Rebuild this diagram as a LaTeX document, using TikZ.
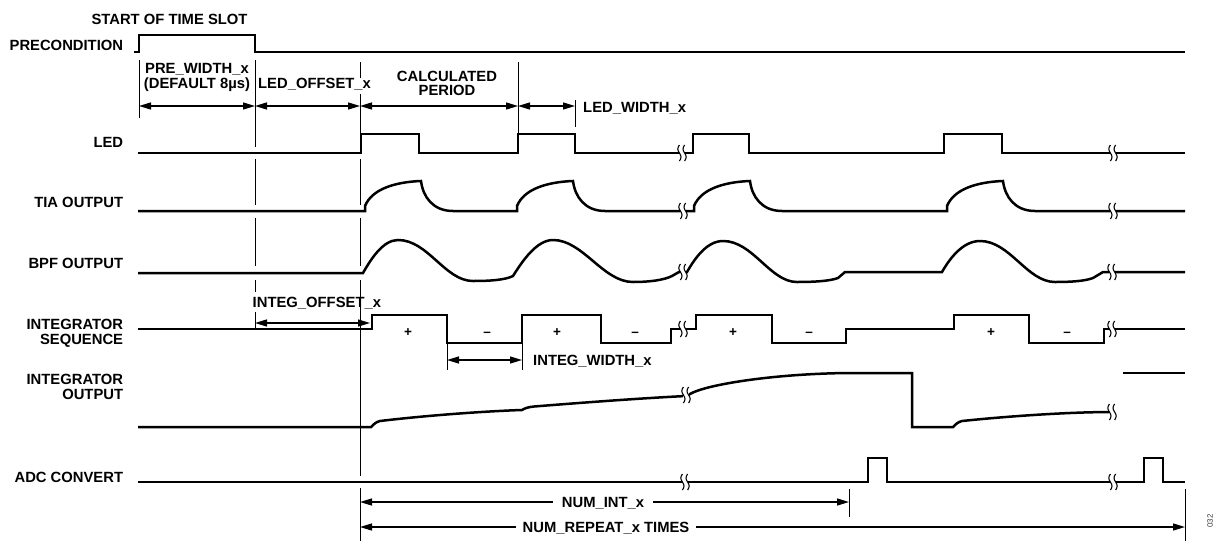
\documentclass[tikz,border=0pt]{standalone}
\usepackage{fontspec}
\setmainfont{Liberation Sans}
\usetikzlibrary{arrows.meta}
\begin{document}
\begin{tikzpicture}[x=1pt,y=-1pt,
  sig/.style={line width=2.5pt, line join=miter},
  vline/.style={line width=1pt},
  dim/.style={line width=1.3pt, arrows={Triangle[length=12pt,width=7pt]-Triangle[length=12pt,width=7pt]}},
  txt/.style={font=\fontsize{14.8}{14.5}\selectfont\bfseries, inner sep=0pt},
  lbl/.style={txt, anchor=base east},
  pm/.style={font=\fontsize{13.5}{13.5}\selectfont\bfseries, inner sep=0pt},
  pics/brk/.style={code={
     \fill[white] (-2.6,-5) rectangle (2.6,5);
     \draw[line width=1.1pt] plot[smooth, domain=-8:8, samples=9] ({-2.6+1.6*sin(\x*22.5)},\x);
     \draw[line width=1.1pt] plot[smooth, domain=-8:8, samples=9] ({2.6+1.6*sin(\x*22.5)},\x);
  }}
]
\useasboundingbox (0,0) rectangle (1215,541);

% ---- row labels
\node[txt, anchor=base] (slot) at (169.5,24.3) {START OF TIME SLOT};
\node[lbl] (lpre) at (123.3,50.6) {PRECONDITION};
\node[lbl] (lled) at (123.3,147.3) {LED};
\node[lbl] (ltia) at (123.3,207.3) {TIA OUTPUT};
\node[lbl] (lbpf) at (123.3,268.7) {BPF OUTPUT};
\node[txt, anchor=north east, align=right] (lseq) at (123.3,319) {INTEGRATOR\\SEQUENCE};
\node[txt, anchor=north east, align=right] (lout) at (123.3,374) {INTEGRATOR\\OUTPUT};
\node[lbl] (ladc) at (123.3,482.7) {ADC CONVERT};

% ---- vertical reference lines
\draw[vline] (139,60) -- (139,118);
\draw[vline] (255,60) -- (255,147) (255,159) -- (255,205) (255,218) -- (255,266)
             (255,280) -- (255,292) (255,312) -- (255,329);
\draw[vline] (360,62) -- (360,78) (360,94) -- (360,134) (360,159) -- (360,205)
             (360,218) -- (360,266) (360,280) -- (360,476) (360,488) -- (360,541);
\draw[vline] (518,62) -- (518,134);
\draw[vline] (575,100) -- (575,127);
\draw[vline] (447,343) -- (447,370);
\draw[vline] (522,343) -- (522,370);
\draw[vline] (849,489) -- (849,517);
\draw[vline] (1185,489) -- (1185,541);

% ---- signals
\draw[sig] (134,52) -- (139,52) -- (139,35) -- (255,35) -- (255,52) -- (1185,52);

\draw[sig] (138,153) -- (361,153) -- (361,134) -- (419,134) -- (419,153) -- (518,153)
  -- (518,134) -- (575,134) -- (575,153) -- (693,153) -- (693,134) -- (749,134)
  -- (749,153) -- (944,153) -- (944,134) -- (1002,134) -- (1002,153) -- (1185,153);

\draw[sig] (138,211) -- (365,211) -- (365,206) .. controls (372,189) and (395,182) .. (421,181)
  .. controls (423,197) and (433,211) .. (453,211) -- (517,211) -- (517,206)
  .. controls (524,189) and (547,182) .. (573,181) .. controls (575,197) and (585,211) .. (605,211)
  -- (694,211) -- (694,206) .. controls (701,189) and (724,182) .. (750,181)
  .. controls (752,197) and (762,211) .. (782,211) -- (947,211) -- (947,206)
  .. controls (954,189) and (977,182) .. (1003,181) .. controls (1005,197) and (1015,211) .. (1035,211)
  -- (1185,211);

\draw[sig] (138,273) -- (363,273) .. controls (371,259) and (383,240) .. (398,240)
  .. controls (428,240) and (445,281) .. (473,281) .. controls (490,281) and (505,280) .. (513,276)
  .. controls (523,260) and (537,240) .. (553,240) .. controls (583,240) and (603,282) .. (633,282)
  .. controls (650,282) and (664,280) .. (672,276) -- (679,272) -- (687,272)
  .. controls (695,258) and (707,241) .. (723,241) .. controls (753,241) and (770,282) .. (797,282)
  .. controls (815,282) and (830,281) .. (838,278) -- (845,272) -- (942,272)
  .. controls (950,258) and (963,241) .. (980,241) .. controls (1010,241) and (1027,282) .. (1055,282)
  .. controls (1072,282) and (1085,281) .. (1093,278) -- (1103,272) -- (1185,272);

\draw[sig] (138,329) -- (372,329) -- (372,315) -- (447,315) -- (447,343) -- (522,343)
  -- (522,315) -- (601,315) -- (601,343) -- (671,343) -- (671,329) -- (696,329) -- (696,315)
  -- (772,315) -- (772,343) -- (846,343) -- (846,329) -- (954,329) -- (954,315) -- (1029,315)
  -- (1029,343) -- (1104,343) -- (1104,329) -- (1185,329);

\draw[sig] (138,427) -- (371,427) .. controls (374,424) and (376,422) .. (380,421)
  .. controls (430,415) and (490,411) .. (522,410) .. controls (525,408) and (529,407) .. (534,406.5)
  .. controls (590,402) and (645,398) .. (686,396) -- (690,394)
  .. controls (705,385) and (770,374) .. (847,373) -- (912,373) -- (912,427) -- (953,427)
  .. controls (956,424) and (958,422) .. (962,421) .. controls (1010,416) and (1070,412) .. (1112,412);
\draw[sig] (1123,373) -- (1185,373);

\draw[sig] (138,482) -- (868,482) -- (868,458) -- (887,458) -- (887,482) -- (1144,482)
  -- (1144,458) -- (1163,458) -- (1163,482) -- (1185,482);

% ---- break marks
\foreach \bx/\by in {682/153,1113/153,683/211,1113/211,683/272,1112/272,683/329,1112/329,
                     686/395,1112/412,685/482,1113/482}
  \pic at (\bx,\by) {brk};

% ---- integrator polarity
\foreach \px [count=\i] in {408,557,733,991} \node[pm] (p\i) at (\px,333) {+};
\foreach \mx [count=\i] in {487,635,809,1067} \node[pm] (m\i) at (\mx,334) {–};

% ---- dimension arrows
\coordinate (t0) at (139,106);
\coordinate (t1) at (255,106);
\coordinate (t2) at (360,106);
\coordinate (t3) at (518,106);
\coordinate (t4) at (575,106);
\draw[dim] (t0) -- (t1);
\draw[dim] (t1) -- (t2);
\draw[dim] (t2) -- (t3);
\draw[dim] (t3) -- (t4);
\coordinate (io0) at (255,323);
\coordinate (io1) at (370,323);
\draw[dim] (io0) -- (io1);
\coordinate (iw0) at (447,360);
\coordinate (iw1) at (522,360);
\draw[dim] (iw0) -- (iw1);
\coordinate (ni0) at (360,502);
\coordinate (ni1) at (849,502);
\draw[dim] (ni0) -- (ni1);
\coordinate (nr0) at (360,527);
\coordinate (nr1) at (1185,527);
\draw[dim] (nr0) -- (nr1);

% ---- dimension labels
\node[txt, anchor=north, align=center] (wpre) at (197,63.3) {PRE\_WIDTH\_x\\(DEFAULT 8µs)};
\node[txt, anchor=base west] (wled) at (258,88.5) {LED\_OFFSET\_x};
\node[txt, anchor=north, align=center] (wcalc) at (447,70.7) {CALCULATED\\PERIOD};
\node[txt, anchor=base west] (wwid) at (583,112.7) {LED\_WIDTH\_x};
\node[txt, anchor=base west] (wioff) at (252.5,307.5) {INTEG\_OFFSET\_x};
\node[txt, anchor=base west] (wiwid) at (533,365) {INTEG\_WIDTH\_x};
\node[txt, anchor=base, fill=white, inner xsep=9pt, inner ysep=2pt] (wnint) at (603,507.5) {NUM\_INT\_x};
\node[txt, anchor=base, fill=white, inner xsep=7pt, inner ysep=2pt] (wnrep) at (606,532.5) {NUM\_REPEAT\_x TIMES};

\node[font=\fontsize{8}{8}\selectfont, text=black!75, rotate=90, inner sep=0pt] (fig) at (1210,521) {032};
\end{tikzpicture}
\end{document}
